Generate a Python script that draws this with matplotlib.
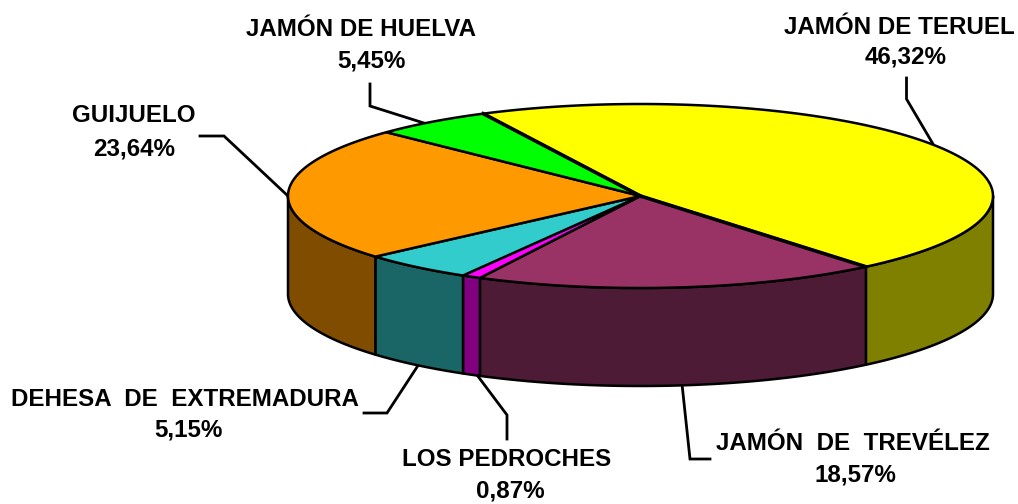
import numpy as np
import matplotlib
matplotlib.use('Agg')
import matplotlib.pyplot as plt

plt.rcParams['font.family'] = ['Liberation Sans', 'DejaVu Sans']

labels = ['JAMÓN DE TERUEL', 'JAMÓN  DE  TREVÉLEZ', 'LOS PEDROCHES',
          'DEHESA  DE  EXTREMADURA', 'GUIJUELO', 'JAMÓN DE HUELVA']
values = [46.32, 18.57, 0.87, 5.15, 23.64, 5.45]
pct_text = ['46,32%', '18,57%', '0,87%', '5,15%', '23,64%', '5,45%']
top_colors = ['#FFFF00', '#993366', '#FF00FF', '#33CCCC', '#FF9900', '#00FF00']
side_colors = ['#808000', '#4D1B36', '#800080', '#1A6666', '#804D00', '#008000']

# label centre x, percent centre x, first line y, second line y
label_x = [899, 853, 507, 185, 134, 361]
pct_x = [906, 855, 510, 188.5, 134, 371]
label_y = [(27, 57), (444, 475), (459, 491), (399, 430), (116, 149), (29, 61)]

# leader lines
leaders = [
    [(906.5, 78), (906.5, 99), (933, 144)],
    [(682, 384), (690, 459), (710, 459)],
    [(477, 375), (507, 415), (507, 439)],
    [(419, 364), (387, 413), (364, 413)],
    [(288, 196), (224, 136), (200, 136)],
    [(427, 124), (370, 106), (370, 84)],
]

cx, cy = 640.5, 196
rx, ry = 352.5, 92
depth = 98
start = 116.5


def pt(ang):
    return cx + rx * np.cos(np.radians(ang)), cy - ry * np.sin(np.radians(ang))


fig = plt.figure(figsize=(10.18, 5.04), dpi=100)
ax = fig.add_axes([0, 0, 1, 1])
ax.set_xlim(0, 1018)
ax.set_ylim(504, 0)
ax.axis('off')

angs = [start]
for v in values:
    angs.append(angs[-1] - v * 3.6)

# sides first, only the front half of the rim shows
for i in range(len(values)):
    s0 = min(angs[i], 0)
    s1 = max(angs[i + 1], -180)
    if s0 <= s1:
        continue
    x, y = pt(np.linspace(s0, s1, 60))
    ax.fill(np.r_[x, x[::-1]], np.r_[y, y[::-1] + depth], fc=side_colors[i],
            ec='black', lw=1.8, joinstyle='round', zorder=2)

for i in range(len(values)):
    x, y = pt(np.linspace(angs[i], angs[i + 1], 120))
    ax.fill(np.r_[cx, x], np.r_[cy, y], fc=top_colors[i], ec='black',
            lw=1.8, joinstyle='round', zorder=3)

# the teruel edges are heavier in the original
for a in angs[:2]:
    xa, ya = pt(a)
    ax.plot([xa, cx], [ya, cy], color='black', lw=2.6, zorder=4)

for seg in leaders:
    ax.plot([p[0] for p in seg], [p[1] for p in seg], color='black', lw=2,
            solid_joinstyle='miter', zorder=1)

for i in range(len(labels)):
    ax.text(label_x[i], label_y[i][0], labels[i], ha='center', va='center',
            fontsize=17.4, fontweight='bold')
    ax.text(pct_x[i], label_y[i][1], pct_text[i], ha='center', va='center',
            fontsize=17.4, fontweight='bold')

fig.savefig('out.png', dpi=100)
